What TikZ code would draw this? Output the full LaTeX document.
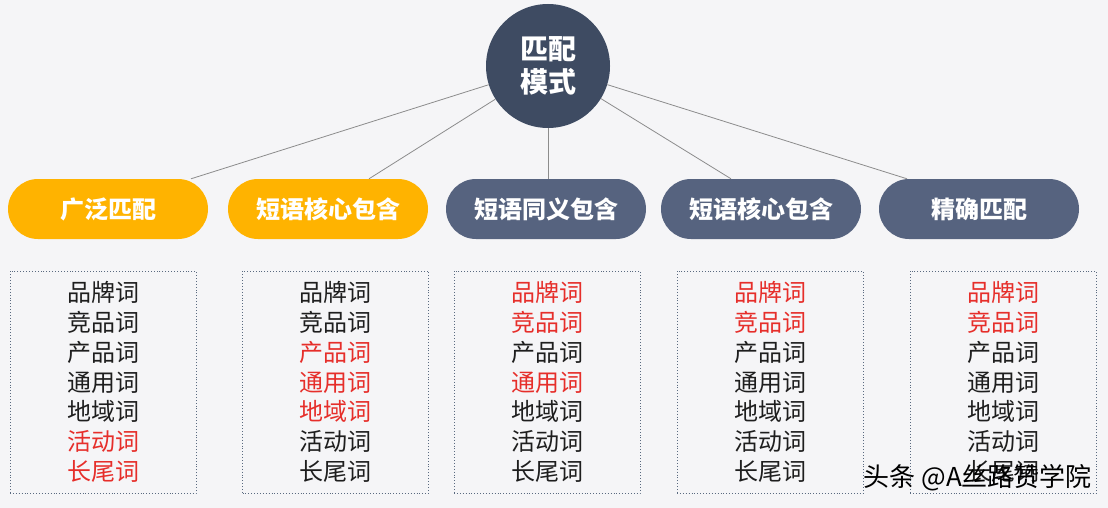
\documentclass[tikz,border=0pt]{standalone}
\usepackage{fontspec}
\newfontfamily\cjk{Noto Sans CJK SC}
\definecolor{bgc}{HTML}{F5F5F7}
\definecolor{orangec}{HTML}{FFB300}
\definecolor{slatec}{HTML}{56637F}
\definecolor{circc}{HTML}{3E4B62}
\definecolor{redc}{HTML}{E62E2A}
\definecolor{linec}{HTML}{8C8C8C}
\definecolor{boxc}{HTML}{5A6A80}
\definecolor{txtc}{HTML}{1E1E1E}
\tikzset{
  pill/.style={rounded corners=30pt, minimum width=200pt, minimum height=60pt, inner sep=0pt,
    text=white, font=\cjk\bfseries\fontsize{24}{28}\selectfont},
  orangepill/.style={pill, fill=orangec},
  slatepill/.style={pill, fill=slatec},
  link/.style={draw=linec, line width=0.8pt},
  wordbox/.style={draw=boxc, dotted, line width=0.9pt, minimum width=186pt, minimum height=222pt, inner sep=0pt},
  words/.style={text=txtc, align=center, inner sep=0pt, font=\cjk\fontsize{24}{29.8}\selectfont},
}
\newcommand{\rw}[1]{\textcolor{redc}{#1}}
\begin{document}
\begin{tikzpicture}[x=1pt,y=-1pt]
\fill[bgc] (0,0) rectangle (1108,508);
\useasboundingbox (0,0) rectangle (1108,508);
\node[circle, fill=circc, minimum size=124pt, inner sep=0pt, text=white, align=center,
  font=\cjk\bfseries\fontsize{28}{33}\selectfont] (c) at (548,66) {匹配\\模式};
\node[orangepill] (p1) at (108,209) {广泛匹配};
\node[orangepill] (p2) at (328,209) {短语核心包含};
\node[slatepill] (p3) at (546,209) {短语同义包含};
\node[slatepill] (p4) at (761,209) {短语核心包含};
\node[slatepill] (p5) at (979,209) {精确匹配};
\draw[link] (c) -- ([xshift=83pt]p1.north);
\draw[link] (c) -- ([xshift=41pt]p2.north);
\draw[link] (c.south) -- (c.south |- p3.north);
\draw[link] (c) -- ([xshift=-30pt]p4.north);
\draw[link] (c) -- ([xshift=-72pt]p5.north);
\node[wordbox] (b1) at (103,382) {};
\node[wordbox] (b2) at (335.5,382) {};
\node[wordbox] (b3) at (547,382) {};
\node[wordbox] (b4) at (770,382) {};
\node[wordbox] (b5) at (1003,382) {};
\node[words] (w1) at (b1.center) {品牌词\\竞品词\\产品词\\通用词\\地域词\\\rw{活动词}\\\rw{长尾词}};
\node[words] (w2) at (b2.center) {品牌词\\竞品词\\\rw{产品词}\\\rw{通用词}\\\rw{地域词}\\活动词\\长尾词};
\node[words] (w3) at (b3.center) {\rw{品牌词}\\\rw{竞品词}\\产品词\\\rw{通用词}\\地域词\\活动词\\长尾词};
\node[words] (w4) at (b4.center) {\rw{品牌词}\\\rw{竞品词}\\产品词\\通用词\\地域词\\活动词\\长尾词};
\node[words] (w5) at (b5.center) {\rw{品牌词}\\\rw{竞品词}\\产品词\\通用词\\地域词\\活动词\\长尾词};
\node[text=black, inner sep=0pt, font=\cjk\fontsize{26}{30}\selectfont, anchor=east] (wm) at (1092,478) {头条 @A丝路赞学院};
\end{tikzpicture}
\end{document}
